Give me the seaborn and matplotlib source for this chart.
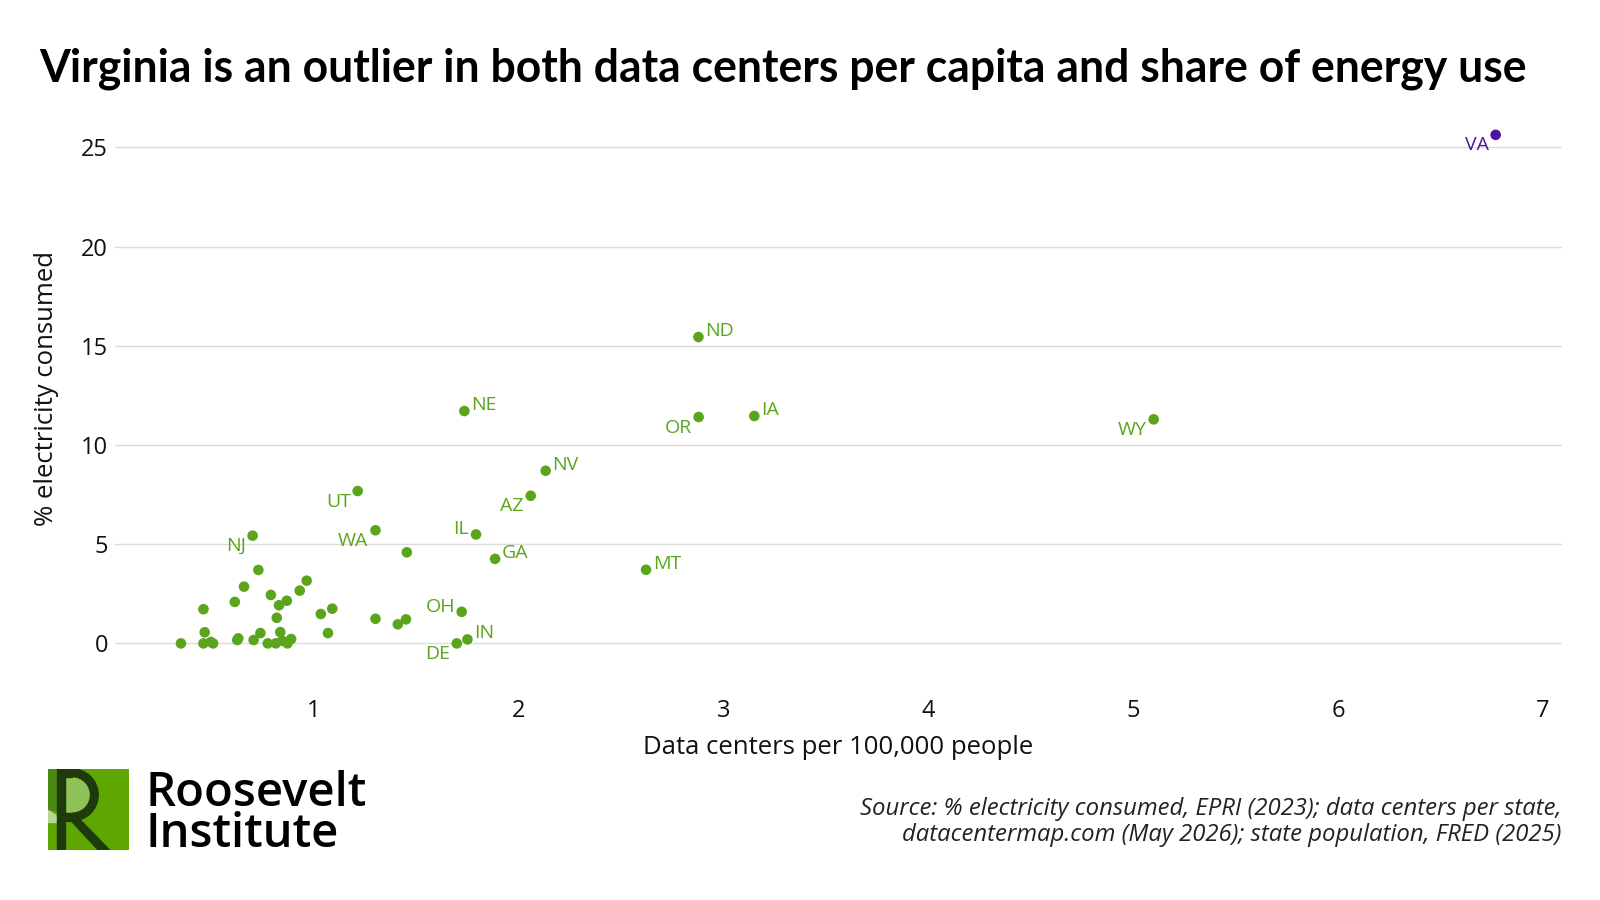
import numpy as np
import pandas as pd
import matplotlib
matplotlib.use("Agg")
import matplotlib.pyplot as plt
import matplotlib.patches as mpatches
import seaborn as sns

# data
states = ["VA", "WY", "ND", "OR", "IA", "NE", "NV", "AZ", "UT", "IL", "GA", "WA",
          "MT", "NJ", "OH", "IN", "DE"] + [""] * 32
dc_per_100k = [6.77, 5.10, 2.877, 2.878, 3.15, 1.734, 2.131, 2.058, 1.213, 1.791, 1.884, 1.30,
               2.621, 0.70, 1.721, 1.749, 1.697,
               1.453, 0.728, 0.964, 0.658, 0.93, 0.789, 0.613, 0.867, 0.829, 0.46, 1.089,
               1.033, 0.818, 1.30, 1.449, 1.409, 0.466, 0.738, 0.835, 1.068, 0.63, 0.625,
               0.705, 0.888, 0.35, 0.46, 0.496, 0.507, 0.774, 0.813, 0.87, 0.845]
pct_electricity = [25.63, 11.29, 15.44, 11.41, 11.46, 11.71, 8.70, 7.44, 7.68, 5.49, 4.26, 5.70,
                   3.71, 5.43, 1.59, 0.20, 0.0,
                   4.59, 3.70, 3.16, 2.86, 2.66, 2.44, 2.09, 2.15, 1.92, 1.72, 1.75,
                   1.48, 1.29, 1.24, 1.21, 0.96, 0.56, 0.52, 0.57, 0.52, 0.25, 0.17,
                   0.17, 0.22, 0.0, 0.0, 0.07, 0.0, 0.0, 0.0, 0.0, 0.13]
y_ticks = [0, 5, 10, 15, 20, 25]
x_ticks = [1, 2, 3, 4, 5, 6, 7]

# label placement: r = right of point, lb = left and below, l = left
label_side = {"VA": "lb", "WY": "lb", "OR": "lb", "UT": "lb", "AZ": "lb", "WA": "lb",
              "NJ": "lb", "DE": "lb", "IL": "l", "OH": "l"}

GREEN = "#5aa51c"
PURPLE = "#4f12a3"
FONT = ["Open Sans", "DejaVu Sans"]

df = pd.DataFrame({"state": states, "x": dc_per_100k, "y": pct_electricity})
df["group"] = np.where(df["state"] == "VA", "VA", "other")

sns.set_theme(style="white")
plt.rcParams["font.family"] = FONT

fig = plt.figure(figsize=(16, 9), dpi=100)
ax = fig.add_axes([115 / 1600, 1 - 691 / 900, (1562 - 115) / 1600, (691 - 115.6) / 900])

sns.scatterplot(data=df, x="x", y="y", hue="group", palette={"VA": PURPLE, "other": GREEN},
                s=58, edgecolor="none", linewidth=0, legend=False, ax=ax, zorder=3)

for _, r in df[df["state"] != ""].iterrows():
    col = PURPLE if r["state"] == "VA" else GREEN
    side = label_side.get(r["state"], "r")
    if side == "r":
        off, ha = (5.0, 0.8), "left"
    elif side == "lb":
        off, ha = (-5.0, -11.2), "right"
    else:
        off, ha = (-5.0, 0.0), "right"
    ax.annotate(r["state"], (r["x"], r["y"]), xytext=off, textcoords="offset points",
                ha=ha, va="baseline", fontsize=14, color=col)

ax.set_xlim(0.028, 7.094)
ax.set_ylim(-2.4, 26.6)
ax.set_xticks(x_ticks)
ax.set_yticks(y_ticks)
ax.tick_params(axis="both", length=0, labelsize=17, colors="#111111")
ax.tick_params(axis="x", pad=6)
ax.tick_params(axis="y", pad=5)
ax.grid(axis="y", color="#dcdcdc", linewidth=1)
ax.grid(axis="x", visible=False)
for s in ax.spines.values():
    s.set_visible(False)
ax.set_xlabel("Data centers per 100,000 people", fontsize=18.5, color="#111111", va="center")
ax.xaxis.set_label_coords(0.5, -0.099)
ax.set_ylabel("% electricity consumed", fontsize=18.5, color="#111111", va="center")
ax.yaxis.set_label_coords(-0.047, 0.525)

# title, fitted to the reference width
title = fig.text(39 / 1600, 1 - 81 / 900, "Virginia is an outlier in both data centers per capita and share of energy use",
                 fontsize=32, fontweight="bold", color="black", ha="left", va="baseline",
                 family=["Lato", "DejaVu Sans"])
fig.canvas.draw()
w = title.get_window_extent().width
title.set_fontsize(32 * 1491 / w)

# source note (baseline of the last line)
fig.text(1561 / 1600, 1 - 841 / 900,
         "Source: % electricity consumed, EPRI (2023); data centers per state,\n"
         "datacentermap.com (May 2026); state population, FRED (2025)",
         fontsize=17.2, style="italic", color="#222222", ha="right", va="baseline",
         multialignment="right", linespacing=1.12)

# logo
lax = fig.add_axes([48 / 1600, 1 - 850 / 900, 81 / 1600, 81 / 900])
lax.set_xlim(0, 1)
lax.set_ylim(0, 1)
lax.axis("off")
lax.add_patch(mpatches.Rectangle((0, 0), 1, 1, color="#5ea700"))
lax.add_patch(mpatches.Rectangle((0, 0.5), 0.11, 0.5, color="#4a8a12"))
lax.add_patch(mpatches.Wedge((0.30, 0.68), 0.27, -90, 90, color="#8fc257"))
lax.add_patch(mpatches.Rectangle((0.16, 0.41), 0.14, 0.54, color="#8fc257"))
lax.add_patch(mpatches.Polygon([(0.0, 0.5), (0.0, 0.35), (0.22, 0.35)], color="#b5d992"))
dark = "#1f3a0d"
lax.add_patch(mpatches.Rectangle((0.11, 0.0), 0.10, 1.0, color=dark))
lax.add_patch(mpatches.Rectangle((0.16, 0.905), 0.14, 0.095, color=dark))
lax.add_patch(mpatches.Rectangle((0.16, 0.36), 0.14, 0.095, color=dark))
lax.add_patch(mpatches.Wedge((0.30, 0.68), 0.32, -90, 90, width=0.095, color=dark))
lax.add_patch(mpatches.Polygon([(0.24, 0.41), (0.36, 0.41), (0.76, 0.0), (0.62, 0.0)], color=dark))

fig.text(146 / 1600, 1 - 847 / 900, "Roosevelt\nInstitute", fontsize=34, fontweight="semibold",
         color="black", ha="left", va="baseline", linespacing=0.83)

fig.savefig("out.png", dpi=100, facecolor="white")
